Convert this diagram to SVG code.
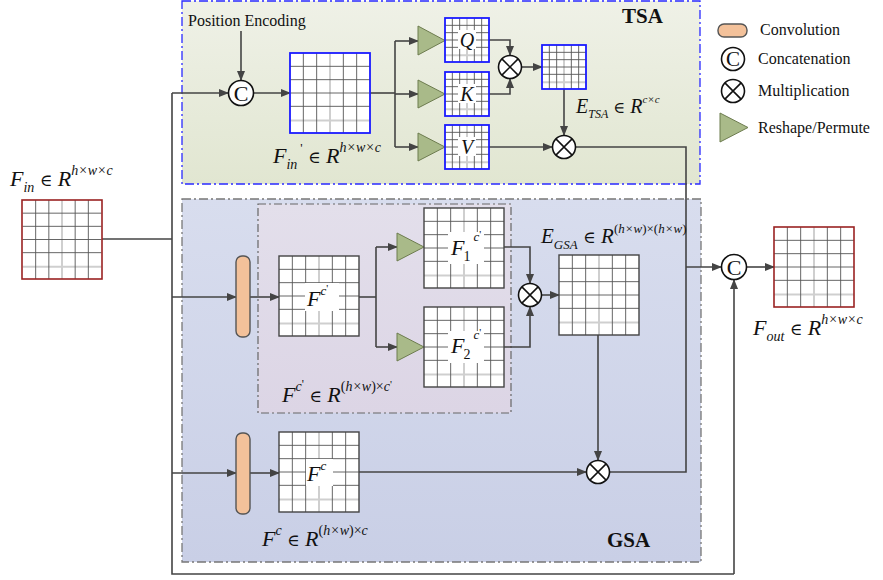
<svg xmlns="http://www.w3.org/2000/svg" xmlns:xlink="http://www.w3.org/1999/xlink" width="883" height="580" viewBox="0 0 883 580">
<style>
.m{font-family:"Liberation Serif","Times New Roman",serif;font-size:22px;fill:#111}
.i{font-style:italic}
.e{font-family:"DejaVu Serif","Liberation Serif",serif;font-style:normal}
.t{font-family:"Liberation Serif","Times New Roman",serif;font-size:16px;fill:#111}
.b{font-family:"Liberation Serif","Times New Roman",serif;font-size:21px;font-weight:bold;fill:#111}
.qkv{font-family:"Liberation Serif","Times New Roman",serif;font-size:20px;font-style:italic;fill:#111}
.cn{fill:none;stroke:#444;stroke-width:1.6}
.ar{fill:none;stroke:#444;stroke-width:1.6;marker-end:url(#ah)}
.op{fill:#fff;stroke:#111;stroke-width:1.6}
.tri{fill:#a9ba89;stroke:#6d7c4f;stroke-width:1}
.conv{fill:#f3c19a;stroke:#555;stroke-width:1.4}
.gl{stroke:#555;stroke-width:0.9}
.gl2{stroke:#cfcfcf;stroke-width:2}
</style>
<defs>
<marker id="ah" markerWidth="10" markerHeight="8" refX="9" refY="4" orient="auto" markerUnits="userSpaceOnUse">
<path d="M0,0 L10,4 L0,8 z" fill="#444"/>
</marker>
<linearGradient id="tsaG" x1="0" y1="0" x2="0" y2="1"><stop offset="0" stop-color="#eff1e7"/><stop offset="1" stop-color="#e1e6d1"/></linearGradient>
<linearGradient id="gsaG" x1="0" y1="0" x2="0" y2="1"><stop offset="0" stop-color="#d8ddee"/><stop offset="1" stop-color="#c9cfe6"/></linearGradient>
<linearGradient id="purG" x1="0" y1="0" x2="0" y2="1"><stop offset="0" stop-color="#e3dfeb"/><stop offset="1" stop-color="#dcd5e5"/></linearGradient>
<symbol id="grid" viewBox="0 0 80 80" overflow="visible">
<line class="gl2" x1="40" y1="0" x2="40" y2="80" vector-effect="non-scaling-stroke"/>
<line class="gl2" x1="0" y1="67.5" x2="80" y2="67.5" vector-effect="non-scaling-stroke"/>
<line class="gl" x1="13.33" y1="0" x2="13.33" y2="80" vector-effect="non-scaling-stroke"/>
<line class="gl" x1="26.67" y1="0" x2="26.67" y2="80" vector-effect="non-scaling-stroke"/>
<line class="gl" x1="53.33" y1="0" x2="53.33" y2="80" vector-effect="non-scaling-stroke"/>
<line class="gl" x1="66.67" y1="0" x2="66.67" y2="80" vector-effect="non-scaling-stroke"/>
<line class="gl" x1="0" y1="13.33" x2="80" y2="13.33" vector-effect="non-scaling-stroke"/>
<line class="gl" x1="0" y1="26.67" x2="80" y2="26.67" vector-effect="non-scaling-stroke"/>
<line class="gl" x1="0" y1="40" x2="80" y2="40" vector-effect="non-scaling-stroke"/>
<line class="gl" x1="0" y1="53.33" x2="80" y2="53.33" vector-effect="non-scaling-stroke"/>
</symbol>
</defs>

<rect width="883" height="580" fill="#fff"/>

<g id="tsa-region">
<rect x="182" y="1" width="518" height="183" fill="url(#tsaG)" stroke="#2a2aff" stroke-width="1.3" stroke-dasharray="9 3 2 3"/>
<text class="b" x="622" y="23">TSA</text>
</g>
<g id="gsa-region">
<rect x="182" y="199" width="519" height="363" fill="url(#gsaG)" stroke="#777" stroke-width="1.3" stroke-dasharray="9 3 2 3"/>
<text class="b" x="607" y="547">GSA</text>
</g>
<g id="inner-region">
<rect x="258" y="204" width="253" height="209" fill="url(#purG)" stroke="#666" stroke-width="1.2" stroke-dasharray="8 3 2 3"/>
</g>

<g id="connectors">
<path class="cn" d="M102,239 H172"/>
<path class="cn" d="M172,93 V574 H734"/>
<path class="ar" d="M172,93 H228"/>
<path class="ar" d="M172,297 H236"/>
<path class="ar" d="M172,473 H236"/>
<path class="ar" d="M734,574 V280"/>
<path class="ar" d="M241,31 V80"/>
<path class="ar" d="M254,93 H290"/>
<path class="cn" d="M370,93 H395"/>
<path class="cn" d="M395,41 V147"/>
<path class="ar" d="M395,41 H418"/>
<path class="ar" d="M395,94 H418"/>
<path class="ar" d="M395,147 H418"/>
<path class="ar" d="M489,40 H510 V55"/>
<path class="ar" d="M489,94 H510 V79"/>
<path class="ar" d="M522,67 H542"/>
<path class="ar" d="M564,89 V135"/>
<path class="ar" d="M489,147 H552"/>
<path class="cn" d="M576,147 H686 V472 H610"/>
<path class="ar" d="M686,267 H721"/>
<path class="ar" d="M747,267 H774"/>
<path class="ar" d="M250,297 H279"/>
<path class="cn" d="M359,297 H376"/>
<path class="cn" d="M376,247 V347"/>
<path class="ar" d="M376,247 H397"/>
<path class="ar" d="M376,347 H397"/>
<path class="ar" d="M504,247 H530 V283"/>
<path class="ar" d="M504,347 H530 V307"/>
<path class="ar" d="M542,295 H559"/>
<path class="ar" d="M598,335 V460"/>
<path class="ar" d="M250,473 H279"/>
<path class="ar" d="M359,472 H586"/>
</g>

<g id="f-in">
<rect x="22" y="200" width="80" height="79" fill="#fff"/>
<use href="#grid" xlink:href="#grid" x="22" y="200" width="80" height="79"/>
<rect x="22" y="200" width="80" height="79" fill="none" stroke="#9a2222" stroke-width="1.6"/>
<text class="m" x="10" y="186"><tspan class="i">F</tspan><tspan class="i" font-size="14" dy="6">in</tspan><tspan dy="-6" class="e" font-size="17"> ∈ </tspan><tspan class="i">R</tspan><tspan class="i" font-size="14" dy="-11">h×w×c</tspan></text>
</g>

<g id="pos-enc">
<text class="t" x="188" y="26">Position Encoding</text>
</g>

<g id="concat-tsa">
<circle class="op" cx="241" cy="93" r="12.5"/>
<text class="t" x="241" y="100.5" style="font-size:22px" text-anchor="middle">C</text>
</g>

<g id="f-in-prime">
<rect x="290" y="53" width="80" height="80" fill="#fff"/>
<use href="#grid" xlink:href="#grid" x="290" y="53" width="80" height="80"/>
<rect x="290" y="53" width="80" height="80" fill="none" stroke="#1a1aff" stroke-width="1.8"/>
<text class="m" x="273" y="163"><tspan class="i">F</tspan><tspan class="i" font-size="14" dy="6">in</tspan><tspan font-size="13" dy="-17" dx="3">'</tspan><tspan dy="11" class="e" font-size="17"> ∈ </tspan><tspan class="i">R</tspan><tspan class="i" font-size="14" dy="-11">h×w×c</tspan></text>
</g>

<g id="reshape-q"><polygon class="tri" points="418,26 445,40.5 418,55"/></g>
<g id="reshape-k"><polygon class="tri" points="418,80 445,94 418,108"/></g>
<g id="reshape-v"><polygon class="tri" points="418,133 445,147 418,161"/></g>

<g id="q">
<rect x="445" y="18" width="44" height="44" fill="#fff"/>
<use href="#grid" xlink:href="#grid" x="445" y="18" width="44" height="44"/>
<rect x="445" y="18" width="44" height="44" fill="none" stroke="#1a1aff" stroke-width="1.8"/>
<rect x="458" y="30" width="18" height="19" fill="#fff"/>
<text class="qkv" x="467" y="47" text-anchor="middle">Q</text>
</g>
<g id="k">
<rect x="445" y="72" width="44" height="44" fill="#fff"/>
<use href="#grid" xlink:href="#grid" x="445" y="72" width="44" height="44"/>
<rect x="445" y="72" width="44" height="44" fill="none" stroke="#1a1aff" stroke-width="1.8"/>
<rect x="458" y="84" width="18" height="19" fill="#fff"/>
<text class="qkv" x="467" y="101" text-anchor="middle">K</text>
</g>
<g id="v">
<rect x="445" y="125" width="44" height="44" fill="#fff"/>
<use href="#grid" xlink:href="#grid" x="445" y="125" width="44" height="44"/>
<rect x="445" y="125" width="44" height="44" fill="none" stroke="#1a1aff" stroke-width="1.8"/>
<rect x="458" y="137" width="18" height="19" fill="#fff"/>
<text class="qkv" x="467" y="154" text-anchor="middle">V</text>
</g>

<g id="mul-qk">
<circle class="op" cx="510" cy="67" r="11.5"/>
<path d="M501.9,58.9 L518.1,75.1 M518.1,58.9 L501.9,75.1" stroke="#111" stroke-width="1.5"/>
</g>

<g id="e-tsa">
<rect x="542" y="45" width="44" height="44" fill="#fff"/>
<use href="#grid" xlink:href="#grid" x="542" y="45" width="44" height="44"/>
<rect x="542" y="45" width="44" height="44" fill="none" stroke="#1a1aff" stroke-width="1.8"/>
<text class="m" x="576" y="113" style="font-size:20px"><tspan class="i">E</tspan><tspan class="i" font-size="12" dy="5">TSA</tspan><tspan dy="-5" class="e" font-size="16"> ∈ </tspan><tspan class="i">R</tspan><tspan class="i" font-size="11" dy="-10">c×c</tspan></text>
</g>

<g id="mul-v">
<circle class="op" cx="564" cy="147" r="11.5"/>
<path d="M555.9,138.9 L572.1,155.1 M572.1,138.9 L555.9,155.1" stroke="#111" stroke-width="1.5"/>
</g>

<g id="conv1"><rect class="conv" x="236" y="256" width="14" height="81" rx="6"/></g>

<g id="f-c-prime">
<rect x="279" y="256" width="80" height="80" fill="#fff"/>
<use href="#grid" xlink:href="#grid" x="279" y="256" width="80" height="80"/>
<rect x="279" y="256" width="80" height="80" fill="none" stroke="#444" stroke-width="1.4"/>
<rect x="305" y="283" width="34" height="28" fill="#fff"/>
<text class="m" x="307" y="306"><tspan class="i">F</tspan><tspan class="i" font-size="13" dy="-11">c</tspan><tspan font-size="11" dy="-3">'</tspan></text>
<text class="m" x="282" y="402"><tspan class="i">F</tspan><tspan class="i" font-size="14" dy="-11">c</tspan><tspan font-size="12" dy="-3">'</tspan><tspan dy="14" class="e" font-size="17"> ∈ </tspan><tspan class="i">R</tspan><tspan font-size="14" dy="-11">(</tspan><tspan class="i" font-size="14">h×w</tspan><tspan font-size="14">)×</tspan><tspan class="i" font-size="14">c</tspan><tspan font-size="11" dy="-3">'</tspan></text>
</g>

<g id="reshape-f1"><polygon class="tri" points="397,233 424,247 397,261"/></g>
<g id="reshape-f2"><polygon class="tri" points="397,333 424,347 397,361"/></g>

<g id="f1">
<rect x="424" y="208" width="80" height="80" fill="#fff"/>
<use href="#grid" xlink:href="#grid" x="424" y="208" width="80" height="80"/>
<rect x="424" y="208" width="80" height="80" fill="none" stroke="#444" stroke-width="1.4"/>
<rect x="448" y="232" width="36" height="32" fill="#fff"/>
<text class="m" x="451" y="255"><tspan class="i">F</tspan><tspan font-size="14" dy="6" dx="-1">1</tspan><tspan class="i" font-size="13" dy="-20" dx="3">c</tspan><tspan font-size="11" dy="-3">'</tspan></text>
</g>
<g id="f2">
<rect x="424" y="307" width="80" height="80" fill="#fff"/>
<use href="#grid" xlink:href="#grid" x="424" y="307" width="80" height="80"/>
<rect x="424" y="307" width="80" height="80" fill="none" stroke="#444" stroke-width="1.4"/>
<rect x="448" y="331" width="36" height="32" fill="#fff"/>
<text class="m" x="451" y="353"><tspan class="i">F</tspan><tspan font-size="14" dy="6" dx="-1">2</tspan><tspan class="i" font-size="13" dy="-20" dx="3">c</tspan><tspan font-size="11" dy="-3">'</tspan></text>
</g>

<g id="mul-f">
<circle class="op" cx="530" cy="295" r="11.5"/>
<path d="M521.9,286.9 L538.1,303.1 M538.1,286.9 L521.9,303.1" stroke="#111" stroke-width="1.5"/>
</g>

<g id="e-gsa">
<rect x="559" y="255" width="80" height="80" fill="#fff"/>
<use href="#grid" xlink:href="#grid" x="559" y="255" width="80" height="80"/>
<rect x="559" y="255" width="80" height="80" fill="none" stroke="#444" stroke-width="1.4"/>
<text class="m" x="541" y="243" style="font-size:21px"><tspan class="i">E</tspan><tspan class="i" font-size="13" dy="6">GSA</tspan><tspan dy="-6" class="e" font-size="17"> ∈ </tspan><tspan class="i">R</tspan><tspan font-size="13" dy="-10">(</tspan><tspan class="i" font-size="13">h×w</tspan><tspan font-size="13">)×(</tspan><tspan class="i" font-size="13">h×w</tspan><tspan font-size="13">)</tspan></text>
</g>

<g id="conv2"><rect class="conv" x="236" y="433" width="14" height="81" rx="6"/></g>

<g id="f-c">
<rect x="279" y="432" width="80" height="80" fill="#fff"/>
<use href="#grid" xlink:href="#grid" x="279" y="432" width="80" height="80"/>
<rect x="279" y="432" width="80" height="80" fill="none" stroke="#444" stroke-width="1.4"/>
<rect x="306" y="459" width="27" height="27" fill="#fff"/>
<text class="m" x="307" y="481"><tspan class="i">F</tspan><tspan class="i" font-size="13" dy="-11">c</tspan></text>
<text class="m" x="262" y="546"><tspan class="i">F</tspan><tspan class="i" font-size="14" dy="-11">c</tspan><tspan dy="11" class="e" font-size="17"> ∈ </tspan><tspan class="i">R</tspan><tspan font-size="14" dy="-11">(</tspan><tspan class="i" font-size="14">h×w</tspan><tspan font-size="14">)×</tspan><tspan class="i" font-size="14">c</tspan></text>
</g>

<g id="mul-gsa">
<circle class="op" cx="598" cy="472" r="11.5"/>
<path d="M589.9,463.9 L606.1,480.1 M606.1,463.9 L589.9,480.1" stroke="#111" stroke-width="1.5"/>
</g>

<g id="concat-out">
<circle class="op" cx="734" cy="267" r="12.5"/>
<text class="t" x="734" y="274.5" style="font-size:22px" text-anchor="middle">C</text>
</g>

<g id="f-out">
<rect x="774" y="227" width="80" height="80" fill="#fff"/>
<use href="#grid" xlink:href="#grid" x="774" y="227" width="80" height="80"/>
<rect x="774" y="227" width="80" height="80" fill="none" stroke="#9a2222" stroke-width="1.6"/>
<text class="m" x="753" y="335"><tspan class="i">F</tspan><tspan class="i" font-size="14" dy="6">out</tspan><tspan dy="-6" class="e" font-size="17"> ∈ </tspan><tspan class="i">R</tspan><tspan class="i" font-size="14" dy="-11">h×w×c</tspan></text>
</g>

<g id="legend">
<rect class="conv" x="718" y="24" width="29" height="13" rx="6"/>
<text class="t" x="760" y="35">Convolution</text>
<circle class="op" cx="733" cy="59" r="11.5"/>
<text class="t" x="733" y="66" style="font-size:21px" text-anchor="middle">C</text>
<text class="t" x="758" y="64">Concatenation</text>
<circle class="op" cx="733" cy="91" r="11.5" stroke-width="1.8"/>
<path d="M724.9,82.9 L741.1,99.1 M741.1,82.9 L724.9,99.1" stroke="#111" stroke-width="1.6"/>
<text class="t" x="758" y="96">Multiplication</text>
<polygon class="tri" points="720,113 748,127.5 720,142"/>
<text class="t" x="758" y="133">Reshape/Permute</text>
</g>
</svg>
